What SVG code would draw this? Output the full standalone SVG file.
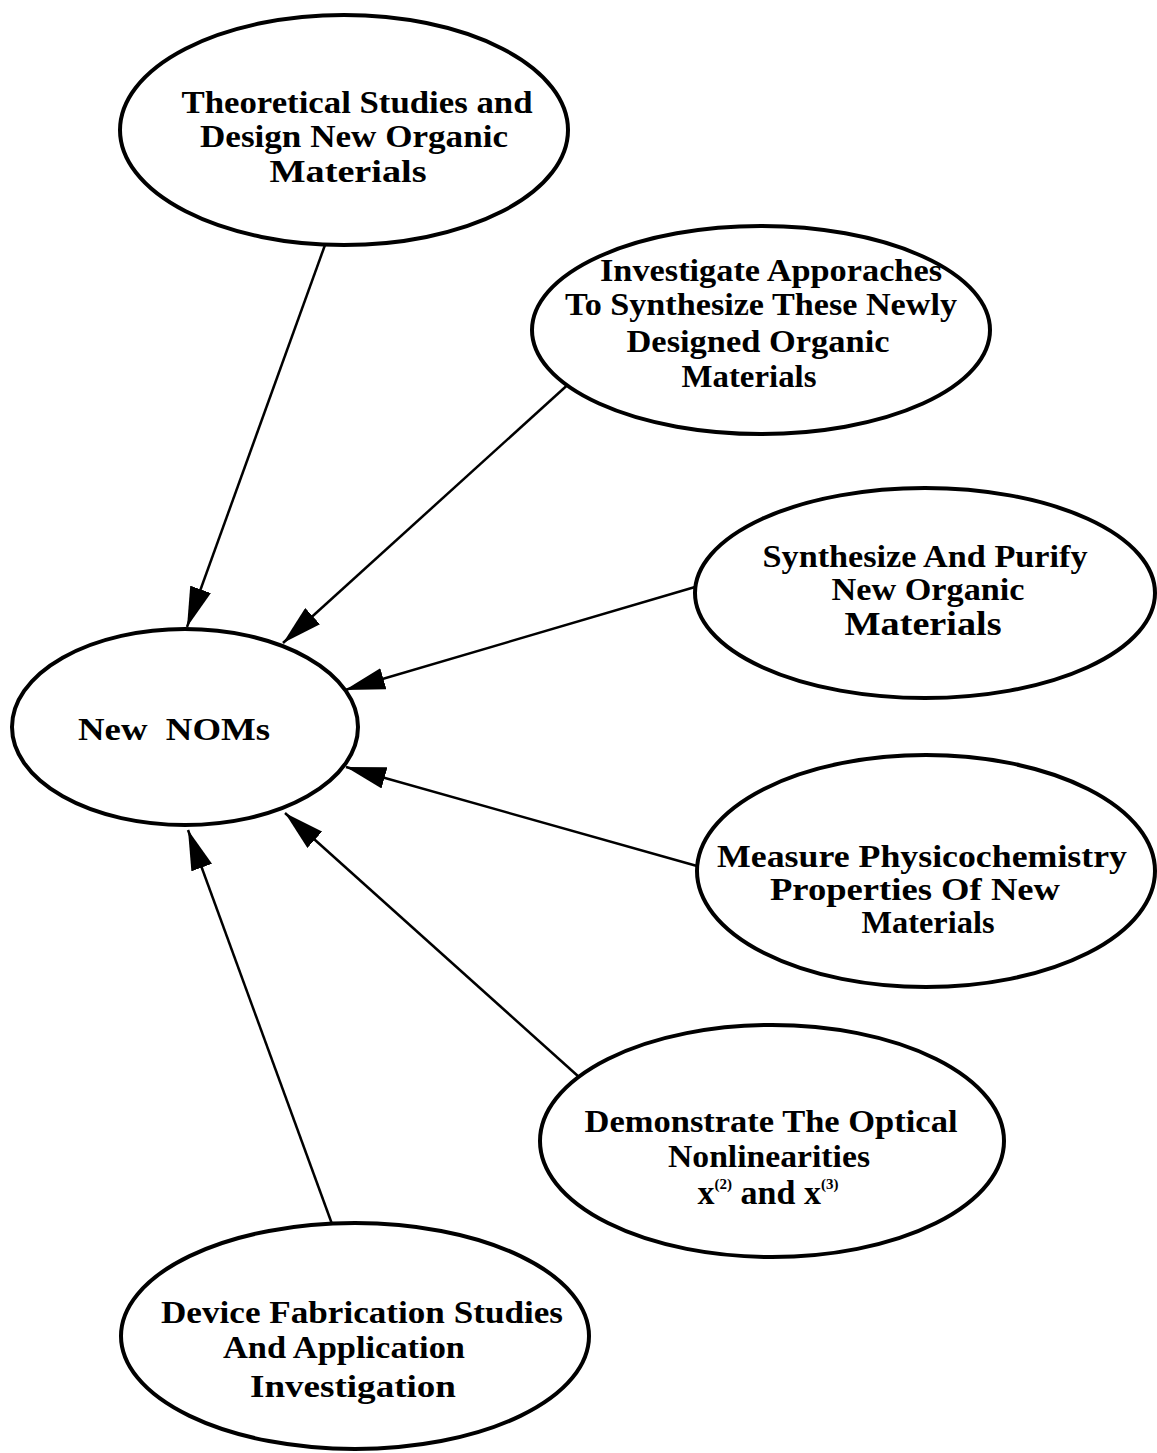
<svg xmlns="http://www.w3.org/2000/svg" width="1157" height="1453" viewBox="0 0 1157 1453">
<style>
.n{fill:#fff;stroke:#000;stroke-width:4}
.t{font-family:"Liberation Serif","Times New Roman",serif;font-weight:bold;font-size:31px;text-anchor:middle;fill:#000}
.c{stroke:#000;stroke-width:2.5;fill:none;marker-end:url(#ah)}
</style>
<defs>
<marker id="ah" markerUnits="userSpaceOnUse" viewBox="0 -11 40 22" refX="40" refY="0" markerWidth="40" markerHeight="22" orient="auto">
<path d="M0,-11 L40,0 L0,11 z" fill="#000"/>
</marker>
</defs>
<rect width="1157" height="1453" fill="#fff"/>
<g id="connectors">
<line class="c" x1="325" y1="245" x2="187" y2="627"/>
<line class="c" x1="573" y1="380" x2="283" y2="643"/>
<line class="c" x1="695" y1="587" x2="345" y2="690"/>
<line class="c" x1="697" y1="866" x2="346" y2="767"/>
<line class="c" x1="579" y1="1077" x2="285" y2="813"/>
<line class="c" x1="332" y1="1224" x2="188" y2="830"/>
</g>
<g id="theoretical">
<ellipse class="n" cx="344" cy="130" rx="224" ry="115"/>
<text class="t" x="357" y="113" textLength="351" lengthAdjust="spacingAndGlyphs">Theoretical Studies and</text>
<text class="t" x="354" y="147" textLength="308" lengthAdjust="spacingAndGlyphs">Design New Organic</text>
<text class="t" x="348" y="182" textLength="157" lengthAdjust="spacingAndGlyphs">Materials</text>
</g>
<g id="investigate">
<ellipse class="n" cx="761" cy="330" rx="229" ry="104"/>
<text class="t" x="771" y="281" textLength="342" lengthAdjust="spacingAndGlyphs">Investigate Apporaches</text>
<text class="t" x="761" y="315" textLength="392" lengthAdjust="spacingAndGlyphs">To Synthesize These Newly</text>
<text class="t" x="758" y="352" textLength="263" lengthAdjust="spacingAndGlyphs">Designed Organic</text>
<text class="t" x="749" y="387" textLength="135" lengthAdjust="spacingAndGlyphs">Materials</text>
</g>
<g id="synthesize">
<ellipse class="n" cx="925" cy="593" rx="230" ry="105"/>
<text class="t" x="925" y="567" textLength="325" lengthAdjust="spacingAndGlyphs">Synthesize And Purify</text>
<text class="t" x="928" y="600" textLength="193" lengthAdjust="spacingAndGlyphs">New Organic</text>
<text class="t" x="923" y="635" textLength="157" lengthAdjust="spacingAndGlyphs" style="font-size:34px">Materials</text>
</g>
<g id="newnoms">
<ellipse class="n" cx="185" cy="727" rx="173" ry="98"/>
<text class="t" x="174" y="740" xml:space="preserve" textLength="192" lengthAdjust="spacingAndGlyphs">New  NOMs</text>
</g>
<g id="measure">
<ellipse class="n" cx="926" cy="871" rx="229" ry="116"/>
<text class="t" x="922" y="867" textLength="410" lengthAdjust="spacingAndGlyphs">Measure Physicochemistry</text>
<text class="t" x="915" y="900" textLength="290" lengthAdjust="spacingAndGlyphs">Properties Of New</text>
<text class="t" x="928" y="933" textLength="133" lengthAdjust="spacingAndGlyphs">Materials</text>
</g>
<g id="demonstrate">
<ellipse class="n" cx="772" cy="1141" rx="232" ry="116"/>
<text class="t" x="771" y="1132" textLength="373" lengthAdjust="spacingAndGlyphs">Demonstrate The Optical</text>
<text class="t" x="769" y="1167" textLength="202" lengthAdjust="spacingAndGlyphs">Nonlinearities</text>
<text class="t" x="768" y="1204" style="font-size:34px">x<tspan font-size="15" dy="-15">(2)</tspan><tspan dy="15"> and x</tspan><tspan font-size="15" dy="-15">(3)</tspan></text>
</g>
<g id="device">
<ellipse class="n" cx="355" cy="1336" rx="234" ry="113"/>
<text class="t" x="362" y="1323" textLength="402" lengthAdjust="spacingAndGlyphs">Device Fabrication Studies</text>
<text class="t" x="344" y="1358" textLength="242" lengthAdjust="spacingAndGlyphs">And Application</text>
<text class="t" x="353" y="1397" textLength="206" lengthAdjust="spacingAndGlyphs">Investigation</text>
</g>
</svg>
